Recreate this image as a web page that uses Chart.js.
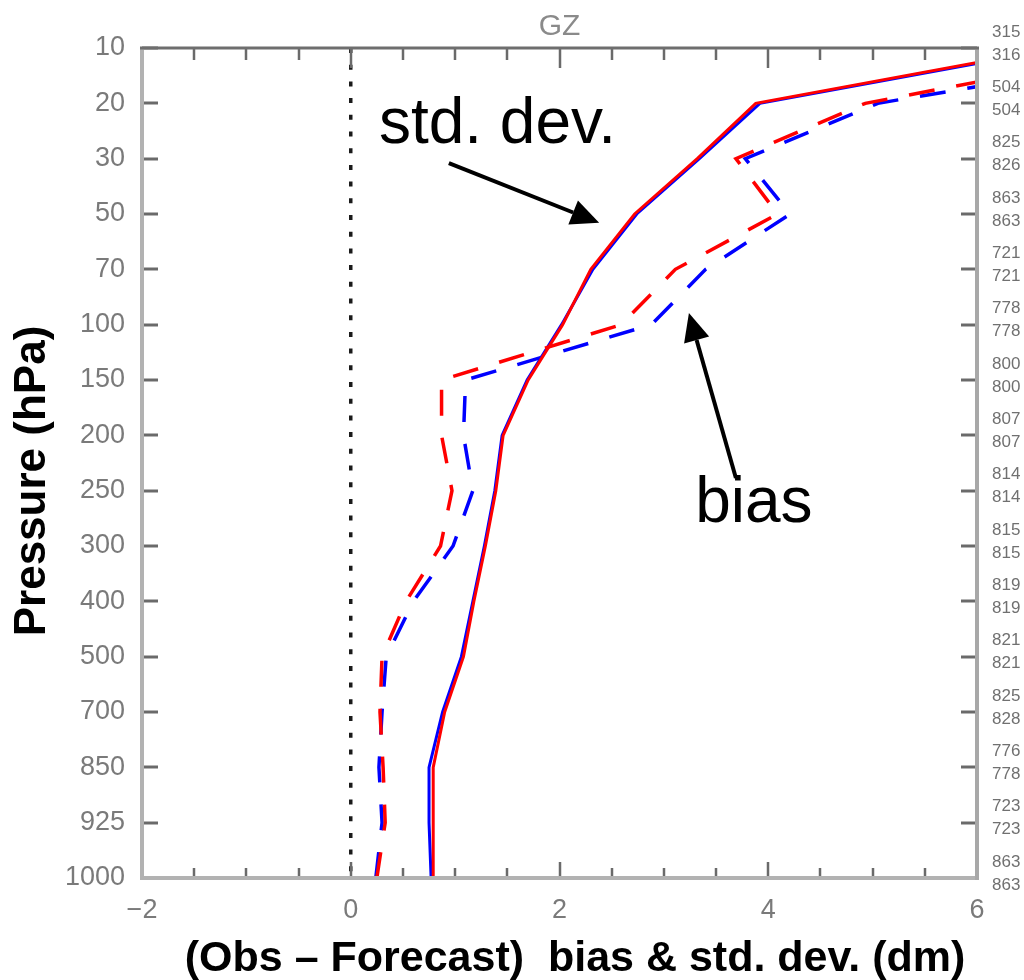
<!DOCTYPE html>
<html><head><meta charset="utf-8">
<script src="https://cdn.jsdelivr.net/npm/chart.js@4.4.0/dist/chart.umd.min.js"></script>
<style>html,body{margin:0;padding:0;background:#fff;}canvas{display:block;}</style>
</head><body>
<canvas id="c" width="1024" height="980" style="width:1024px;height:980px"></canvas>
<script>
// ---- data (top of the profile first: 10 hPa ... 1000 hPa) ----
const levels = [10, 20, 30, 50, 70, 100, 150, 200, 250, 300, 400, 500, 700, 850, 925, 1000];
const redStd   = [6.75, 3.88, 3.32, 2.72, 2.30, 2.03, 1.70, 1.46, 1.39, 1.29, 1.18, 1.08, 0.90, 0.79, 0.79, 0.79];
const blueStd  = [6.80, 3.92, 3.34, 2.74, 2.32, 2.02, 1.69, 1.45, 1.38, 1.28, 1.17, 1.06, 0.88, 0.75, 0.75, 0.77];
const redBias  = [7.70, 4.93, 3.69, 4.09, 3.11, 2.59, 0.87, 0.87, 0.97, 0.86, 0.53, 0.30, 0.28, 0.31, 0.33, 0.25];
const blueBias = [8.20, 5.05, 3.78, 4.21, 3.40, 2.88, 1.10, 1.08, 1.17, 0.98, 0.60, 0.34, 0.30, 0.27, 0.30, 0.24];
const countsA  = [315, 504, 825, 863, 721, 778, 800, 807, 814, 815, 819, 821, 825, 776, 723, 863];
const countsB  = [316, 504, 826, 863, 721, 778, 800, 807, 814, 815, 819, 821, 828, 778, 723, 863];
const xTickLabels = {'-2': '\u22122', '0': '0', '2': '2', '4': '4', '6': '6'};
const chartTitle = 'GZ';
const xTitle = '(Obs \u2013 Forecast)  bias & std. dev. (dm)';
const yTitle = 'Pressure (hPa)';
// annotations in data units (x value, level index)
const stdNote  = {text: 'std. dev.', x: 0.27, y: 1.72, tail: [0.94, 2.08], tip: [2.38, 3.16]};
const biasNote = {text: 'bias', x: 3.30, y: 8.57, tail: [3.69, 7.77], tip: [3.24, 4.79]};

const FONT = '"Liberation Sans", Arial, sans-serif';
// profiles drawn from the surface upward
const toPts = arr => arr.map((v, i) => ({x: v, y: i})).reverse();

const decor = {
  id: 'decor',
  afterDraw(chart) {
    const c = chart.ctx, a = chart.chartArea;
    const xs = chart.scales.x, ys = chart.scales.y;
    c.save();
    // tick marks (inward)
    c.lineCap = 'butt';
    for (let v = -2; v <= 6.001; v += 0.5) {
      const px = Math.round(xs.getPixelForValue(v));
      const major = Math.abs(v % 2) < 1e-6;
      c.strokeStyle = '#6a6a6a'; c.lineWidth = 2.5;
      c.beginPath(); c.moveTo(px, a.top); c.lineTo(px, a.top + (major ? 20 : 12)); c.stroke();
      c.beginPath(); c.moveTo(px, a.bottom); c.lineTo(px, a.bottom - (major ? 16 : 10)); c.stroke();
    }
    for (let i = 0; i < levels.length; i++) {
      const py = Math.round(ys.getPixelForValue(i));
      c.strokeStyle = '#6a6a6a'; c.lineWidth = 3;
      c.beginPath(); c.moveTo(a.left, py); c.lineTo(a.left + 16, py); c.stroke();
      c.beginPath(); c.moveTo(a.right, py); c.lineTo(a.right - 16, py); c.stroke();
    }
    // frame
    c.strokeStyle = '#b2b2b2'; c.lineWidth = 4;
    c.beginPath(); c.moveTo(a.left, a.top); c.lineTo(a.left, a.bottom + 2); c.stroke();
    c.beginPath(); c.moveTo(a.left - 2, a.bottom); c.lineTo(a.right + 2, a.bottom); c.stroke();
    c.strokeStyle = '#a8a8a8';
    c.beginPath(); c.moveTo(a.right, a.top); c.lineTo(a.right, a.bottom + 2); c.stroke();
    c.strokeStyle = '#6e6e6e'; c.lineWidth = 3;
    c.beginPath(); c.moveTo(a.left - 2, a.top); c.lineTo(a.right + 2, a.top); c.stroke();

    // title
    c.fillStyle = '#8a8a8a'; c.font = '30px ' + FONT;
    c.textAlign = 'center'; c.textBaseline = 'alphabetic';
    c.fillText(chartTitle, (a.left + a.right) / 2, 35);

    // right-hand counts
    c.fillStyle = '#707070'; c.font = '17px ' + FONT; c.textAlign = 'left'; c.textBaseline = 'middle';
    for (let i = 0; i < levels.length; i++) {
      const py = ys.getPixelForValue(i);
      c.fillText(String(countsA[i]), a.right + 15, py - 16);
      c.fillText(String(countsB[i]), a.right + 15, py + 7);
    }

    // axis titles
    c.fillStyle = '#000'; c.font = 'bold 43px ' + FONT;
    c.textAlign = 'center'; c.textBaseline = 'alphabetic';
    c.fillText(xTitle, 575, 971);
    c.save();
    c.font = 'bold 44px ' + FONT;
    c.translate(45, 481);
    c.rotate(-Math.PI / 2);
    c.fillText(yTitle, 0, 0);
    c.restore();

    // annotations
    const drawNote = n => {
      c.fillStyle = '#000'; c.font = '64px ' + FONT;
      c.textAlign = 'left'; c.textBaseline = 'alphabetic';
      c.fillText(n.text, xs.getPixelForValue(n.x), ys.getPixelForValue(n.y));
      const x0 = xs.getPixelForValue(n.tail[0]), y0 = ys.getPixelForValue(n.tail[1]);
      const x1 = xs.getPixelForValue(n.tip[0]), y1 = ys.getPixelForValue(n.tip[1]);
      const ang = Math.atan2(y1 - y0, x1 - x0);
      const hl = 28, hw = 13;
      const bx = x1 - hl * Math.cos(ang), by = y1 - hl * Math.sin(ang);
      c.strokeStyle = '#000'; c.lineWidth = 4;
      c.beginPath(); c.moveTo(x0, y0); c.lineTo(bx, by); c.stroke();
      c.beginPath();
      c.moveTo(x1, y1);
      c.lineTo(bx + hw * Math.sin(ang), by - hw * Math.cos(ang));
      c.lineTo(bx - hw * Math.sin(ang), by + hw * Math.cos(ang));
      c.closePath(); c.fill();
    };
    drawNote(stdNote);
    drawNote(biasNote);
    c.restore();
  }
};

new Chart(document.getElementById('c'), {
  type: 'line',
  data: {
    datasets: [
      {label: 'std. dev. (red)', data: toPts(redStd), borderColor: '#ff0000', borderWidth: 3, pointRadius: 0, order: 1},
      {label: 'bias (red)', data: toPts(redBias), borderColor: '#ff0000', borderWidth: 3.5, borderDash: [26, 22], pointRadius: 0, order: 2},
      {label: 'std. dev. (blue)', data: toPts(blueStd), borderColor: '#0000ff', borderWidth: 3, pointRadius: 0, order: 3},
      {label: 'bias (blue)', data: toPts(blueBias), borderColor: '#0000ff', borderWidth: 3.5, borderDash: [26, 22], pointRadius: 0, order: 4},
      {label: 'zero', data: [{x: 0, y: 0}, {x: 0, y: levels.length - 1}], borderColor: '#1a1a1a', borderWidth: 3.5, borderDash: [5, 11.7], pointRadius: 0, order: 5}
    ]
  },
  options: {
    responsive: false,
    animation: false,
    devicePixelRatio: 1,
    layout: {padding: {top: 48, left: 0, right: 0, bottom: 0}},
    plugins: {legend: {display: false}, tooltip: {enabled: false}, title: {display: false}},
    elements: {line: {tension: 0}},
    scales: {
      x: {
        type: 'linear', position: 'bottom', min: -2, max: 6,
        grid: {display: false}, border: {display: false},
        ticks: {stepSize: 2, color: '#7a7a7a', font: {family: FONT, size: 27}, padding: 8,
                callback: v => xTickLabels[String(v)] ?? ''},
        afterFit: s => { s.height = 102; }
      },
      y: {
        type: 'linear', position: 'left', reverse: true, min: 0, max: levels.length - 1,
        grid: {display: false}, border: {display: false},
        ticks: {stepSize: 1, autoSkip: false, color: '#7a7a7a', font: {family: FONT, size: 27}, padding: 9,
                callback: v => levels[v] ?? ''},
        afterFit: s => { s.width = 142; }
      },
      y2: {
        type: 'linear', position: 'right', min: 0, max: levels.length - 1,
        grid: {display: false}, border: {display: false},
        ticks: {display: false},
        afterFit: s => { s.width = 47; }
      }
    }
  },
  plugins: [decor]
});
</script>
</body></html>
